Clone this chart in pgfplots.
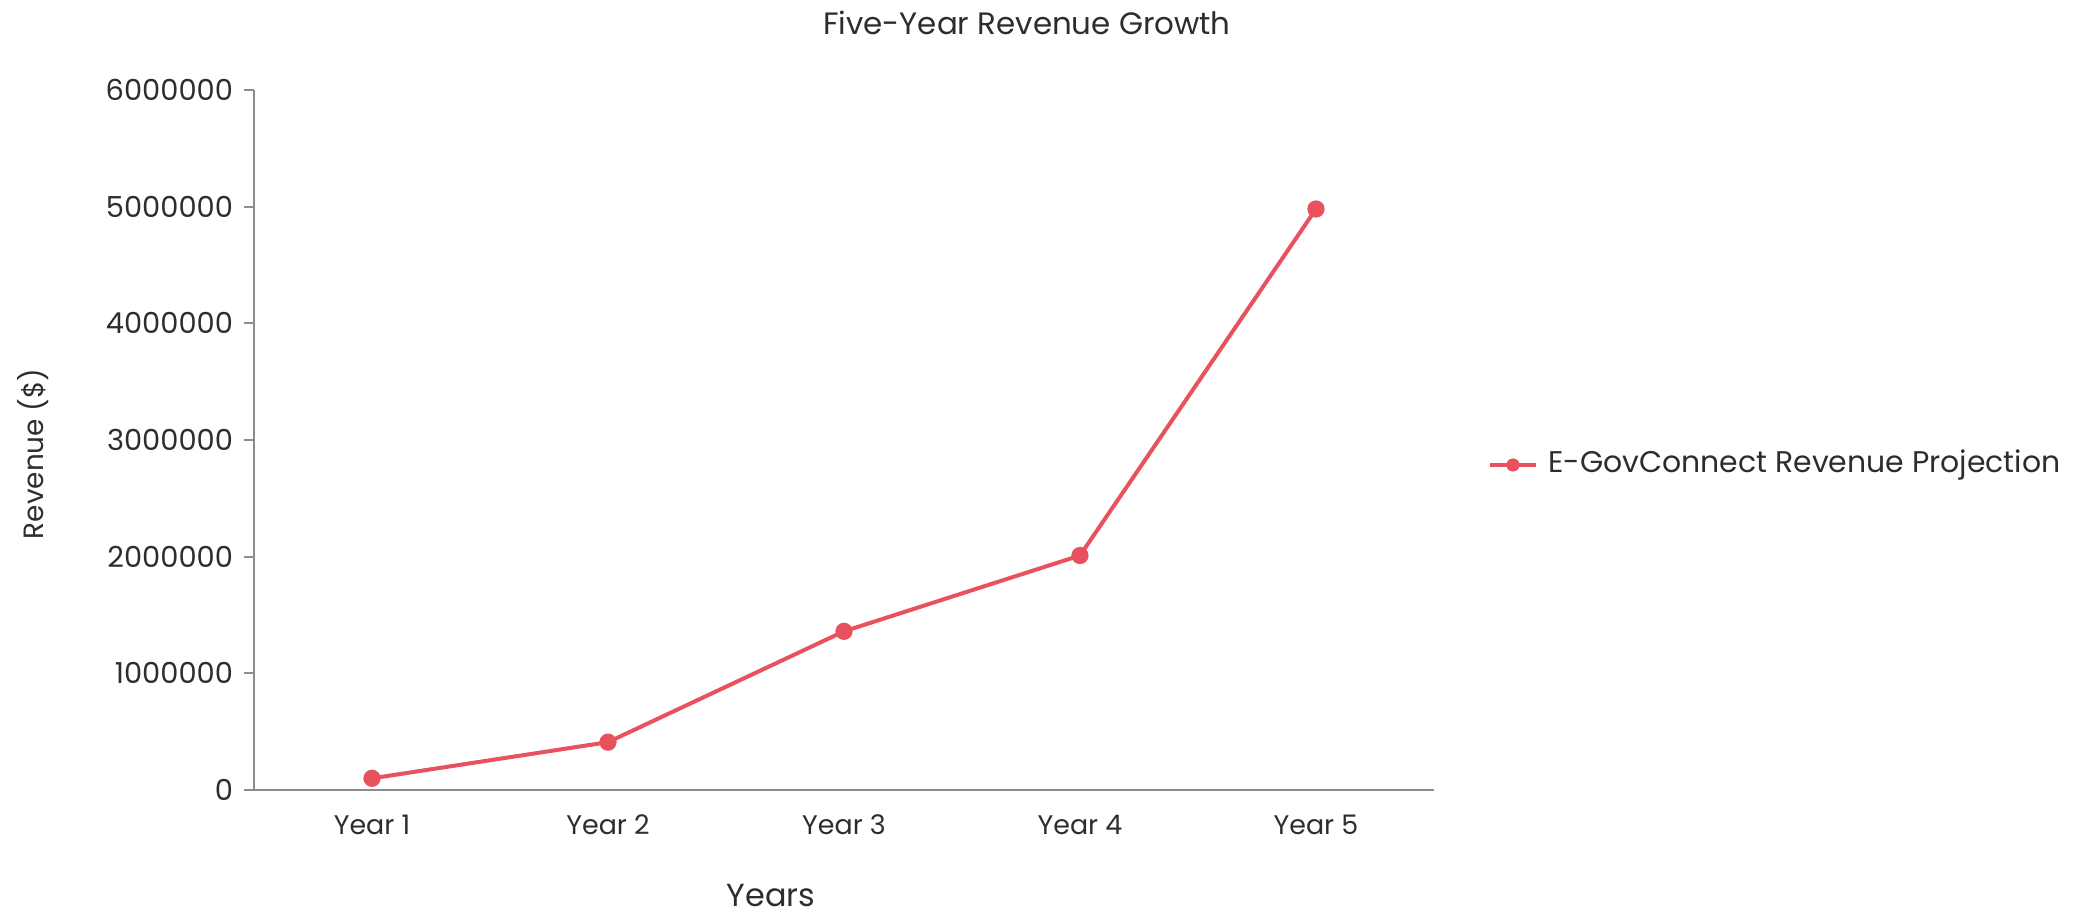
\documentclass[border=0pt]{standalone}
\usepackage{fontspec}
\setmainfont{Poppins}
\usepackage{pgfplots}
\pgfplotsset{compat=1.18}
\definecolor{lineRed}{RGB}{232,82,94}
\definecolor{axGray}{RGB}{140,140,140}
\definecolor{txt}{RGB}{45,45,45}
\begin{document}
\begin{tikzpicture}
\useasboundingbox (-127bp,-65bp) rectangle (920.5bp,395bp);
\begin{axis}[
  at={(0,0)}, anchor=south west,
  width=590bp, height=350bp, scale only axis,
  xmin=0.5, xmax=5.5, ymin=0, ymax=6000000,
  axis x line=bottom, axis y line=left,
  axis line style={-, draw=axGray, line width=1.2bp},
  xtick={1,2,3,4,5},
  xticklabels={Year 1,Year 2,Year 3,Year 4,Year 5},
  major x tick style={draw=none},
  extra x ticks={0.5,1.5,2.5,3.5,4.5,5.5},
  extra x tick labels={},
  extra x tick style={tick style={draw=axGray, line width=1bp}, major tick length=5bp, tick align=outside},
  ytick={0,1000000,2000000,3000000,4000000,5000000,6000000},
  yticklabels={0,1000000,2000000,3000000,4000000,5000000,6000000},
  y tick style={draw=axGray, line width=1bp},
  major tick length=5bp,
  tick align=outside,
  scaled y ticks=false,
  /pgf/number format/assume math mode=true,
  xticklabel style={font=\fontsize{13.5}{15}\selectfont, text=txt, yshift=-4bp},
  yticklabel style={font=\fontsize{14.5}{16}\selectfont, text=txt, xshift=-2bp},
  clip=false,
]
\addplot[color=lineRed, line width=2bp, mark=*, mark size=3.3bp, mark options={fill=lineRed, draw=lineRed}]
  coordinates {(1,100000) (2,410000) (3,1360000) (4,2010000) (5,4980000)};
\end{axis}
\node[font=\fontsize{15.5}{17}\selectfont, text=txt] at (386.5bp,383.5bp) {Five-Year Revenue Growth};
\node[font=\fontsize{16}{18}\selectfont, text=txt] at (258.5bp,-53bp) {Years};
\node[font=\fontsize{14}{16}\selectfont, text=txt, rotate=90] at (-110.5bp,168bp) {Revenue (\$)};
\draw[lineRed, line width=2bp] (618bp,162.5bp) -- (641bp,162.5bp);
\fill[lineRed] (629.5bp,162.5bp) circle (3.3bp);
\node[font=\fontsize{15}{17}\selectfont, text=txt, anchor=west, inner sep=0pt] at (647bp,162.5bp) {E-GovConnect Revenue Projection};
\end{tikzpicture}
\end{document}
